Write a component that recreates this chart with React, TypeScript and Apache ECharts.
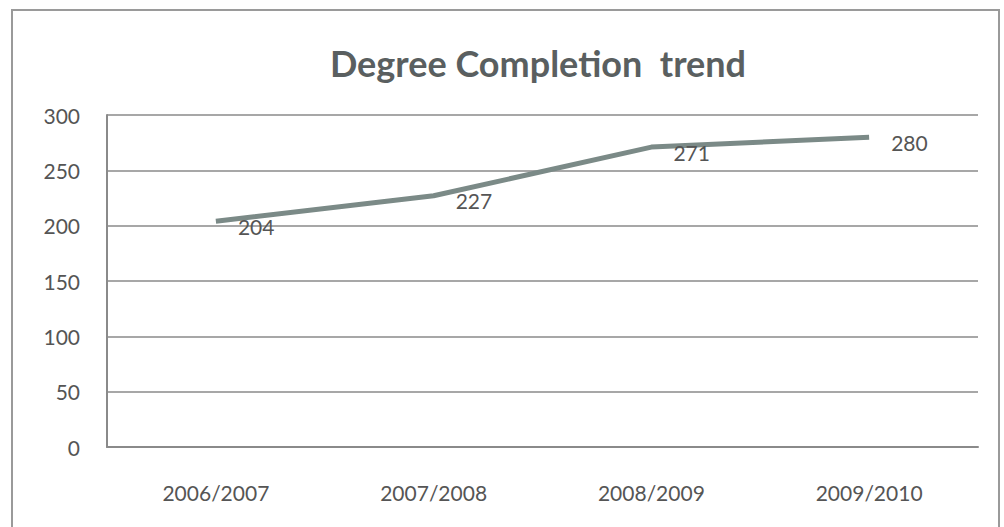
import React, { useEffect, useRef } from "react";
import * as echarts from "echarts";

const categories = ["2006/2007", "2007/2008", "2008/2009", "2009/2010"];
const values = [204, 227, 271, 280];
const yTicks = { min: 0, max: 300, interval: 50 };
const titleText = "Degree Completion  trend";

export default function App() {
  const ref = useRef<HTMLDivElement>(null);
  useEffect(() => {
    document.body.style.margin = "0";
    const chart = echarts.init(ref.current!, null, { renderer: "svg" });
    const font = "Lato, 'Open Sans', sans-serif";
    chart.setOption({
      animation: false,
      backgroundColor: "#ffffff",
      title: {
        text: titleText,
        left: 533,
        textAlign: "center",
        top: 40,
        textStyle: { fontFamily: font, fontWeight: "bold", fontSize: 36, color: "#5a5f60" },
      },
      graphic: [
        {
          type: "rect",
          shape: { x: 12, y: 10, width: 987, height: 530 },
          style: { fill: "none", stroke: "#9a9a9a", lineWidth: 2 },
          silent: true,
        },
      ],
      grid: { left: 107, right: 26, top: 115, bottom: 80 },
      xAxis: {
        type: "category",
        data: categories,
        boundaryGap: true,
        axisLine: { show: true, lineStyle: { color: "#8a8a8a", width: 2 } },
        axisTick: { show: false },
        axisLabel: { fontFamily: font, fontSize: 21, color: "#555", margin: 35 },
      },
      yAxis: {
        type: "value",
        min: yTicks.min,
        max: yTicks.max,
        interval: yTicks.interval,
        axisLine: { show: true, lineStyle: { color: "#8a8a8a", width: 2 } },
        axisTick: { show: false },
        axisLabel: { fontFamily: font, fontSize: 21, color: "#555", margin: 27 },
        splitLine: { lineStyle: { color: "#8a8a8a", width: 1.5 } },
      },
      series: [
        {
          type: "line",
          data: values,
          symbol: "circle",
          symbolSize: 0,
          showSymbol: true,
          itemStyle: { color: "#7b8a87", opacity: 0 },
          lineStyle: { color: "#7b8a87", width: 5 },
          label: {
            show: true,
            position: "right",
            distance: 22,
            offset: [0, 5],
            fontFamily: font,
            fontSize: 21,
            color: "#555",
            opacity: 1,
          },
        },
      ],
    });
    return () => chart.dispose();
  }, []);
  return <div ref={ref} style={{ width: 1004, height: 527 }} />;
}
